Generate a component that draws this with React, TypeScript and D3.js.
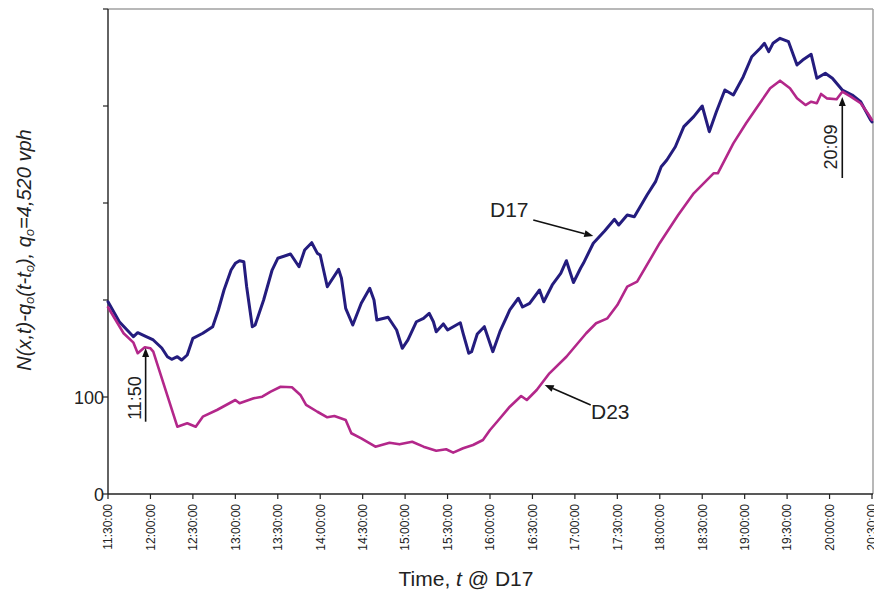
import React from "react";
import * as d3 from "d3";

// ---- data ----
const xTickLabels = [
  "11:30:00", "12:00:00", "12:30:00", "13:00:00", "13:30:00", "14:00:00", "14:30:00",
  "15:00:00", "15:30:00", "16:00:00", "16:30:00", "17:00:00", "17:30:00", "18:00:00",
  "18:30:00", "19:00:00", "19:30:00", "20:00:00", "20:30:00",
];
const yTicks = [0, 100, 200, 300, 400, 500];
const yTickLabels = ["0", "100", "", "", "", ""];

const d17Times = [
  "11:30", "11:38", "11:48", "11:51", "11:57", "12:02", "12:08", "12:12", "12:15", "12:19",
  "12:22", "12:26", "12:30", "12:37", "12:44", "12:48", "12:52", "12:57", "13:00", "13:03",
  "13:06", "13:08", "13:12", "13:14", "13:20", "13:26", "13:30", "13:39", "13:45", "13:49",
  "13:54", "13:58", "14:00", "14:05", "14:13", "14:15", "14:18", "14:23", "14:29", "14:35",
  "14:38", "14:40", "14:48", "14:54", "14:58", "15:02", "15:08", "15:13", "15:17", "15:20",
  "15:22", "15:27", "15:30", "15:39", "15:41", "15:45", "15:47", "15:51", "15:56", "16:02",
  "16:07", "16:14", "16:20", "16:23", "16:28", "16:35", "16:38", "16:44", "16:50", "16:54",
  "16:59", "17:04", "17:06", "17:13", "17:21", "17:28", "17:31", "17:37", "17:42", "17:51",
  "17:57", "18:01", "18:05", "18:11", "18:17", "18:24", "18:30", "18:35", "18:40", "18:46",
  "18:52", "18:59", "19:05", "19:11", "19:14", "19:17", "19:20", "19:25", "19:31", "19:37",
  "19:41", "19:47", "19:51", "19:57", "20:02", "20:09", "20:16", "20:22", "20:29", "20:30",
];
const d17Values = [
  198.2, 177.6, 162.2, 166.3, 162.2, 158.8, 150.5, 141.5, 138.9, 141.5,
  138.1, 143.3, 160.5, 165.7, 172.5, 189.7, 210.3, 230.9, 237.8, 240.5,
  239.5, 213.7, 172.5, 174.2, 200.0, 230.9, 243.0, 247.4, 234.3, 251.5,
  259.1, 248.1, 246.4, 213.7, 231.6, 222.4, 191.4, 174.2, 196.6, 212.1,
  200.0, 179.4, 182.2, 169.1, 150.2, 158.8, 177.6, 181.1, 186.3, 177.6,
  167.3, 175.3, 169.1, 176.6, 165.7, 145.1, 146.7, 164.9, 172.5, 146.7,
  167.3, 189.7, 201.8, 192.8, 196.6, 210.3, 198.2, 215.5, 227.5, 240.5,
  218.0, 232.7, 237.8, 258.5, 271.1, 283.2, 277.3, 287.6, 285.9, 308.2,
  322.0, 337.4, 344.3, 358.0, 378.7, 389.0, 400.0, 373.5, 394.1, 416.5,
  411.3, 430.2, 450.8, 459.5, 464.6, 456.0, 464.6, 469.8, 466.3, 442.3,
  447.4, 453.3, 428.6, 433.7, 428.6, 416.5, 411.3, 404.4, 385.6, 383.5,
];

const d23Times = [
  "11:30", "11:41", "11:48", "11:51", "11:56", "12:00", "12:02", "12:19", "12:26", "12:32",
  "12:37", "12:47", "13:00", "13:03", "13:13", "13:19", "13:25", "13:32", "13:40", "13:46",
  "13:50", "13:58", "14:05", "14:10", "14:18", "14:22", "14:29", "14:39", "14:49", "14:56",
  "15:05", "15:13", "15:22", "15:29", "15:34", "15:41", "15:48", "15:55", "16:00", "16:05",
  "16:14", "16:22", "16:26", "16:33", "16:42", "16:54", "17:08", "17:15", "17:23", "17:30",
  "17:37", "17:44", "18:00", "18:13", "18:24", "18:38", "18:41", "18:52", "19:01", "19:09",
  "19:18", "19:25", "19:32", "19:37", "19:43", "19:47", "19:51", "19:54", "19:58", "20:05",
  "20:09", "20:15", "20:22", "20:27", "20:30",
];
const d23Values = [
  192.5, 165.7, 156.0, 145.1, 151.2, 150.2, 146.7, 69.4, 72.9, 69.4,
  79.7, 86.6, 96.9, 93.5, 98.7, 100.3, 105.5, 110.6, 110.0, 102.1,
  91.8, 84.8, 79.1, 80.4, 76.3, 62.6, 57.4, 48.8, 52.9, 51.2,
  53.9, 48.8, 44.6, 46.1, 42.6, 47.1, 50.5, 55.7, 66.0, 74.5,
  90.0, 101.0, 96.9, 107.2, 124.4, 141.5, 165.7, 176.0, 181.1, 194.8,
  213.7, 218.9, 258.8, 287.6, 310.0, 330.6, 330.6, 361.5, 382.2, 399.3,
  418.2, 426.1, 418.2, 407.9, 401.0, 404.4, 402.8, 412.4, 407.9, 406.9,
  414.7, 409.6, 402.8, 392.5, 385.6,
];

// ---- layout ----
const W = 874;
const H = 592;
const X0 = 108;
const X1 = 872;
const Y0 = 494;
const Y1 = 9;
const FONT = "'Liberation Sans', Arial, Helvetica, sans-serif";

const toMin = (s: string) => {
  const p = s.split(":").map(Number);
  return p[0] * 60 + p[1] + (p[2] || 0) / 60;
};

const x = d3.scaleLinear().domain([toMin("11:30"), toMin("20:30")]).range([X0, X1]);
const y = d3.scaleLinear().domain([0, 500]).range([Y0, Y1]);

const lineGen = d3
  .line<[number, number]>()
  .x((d) => x(d[0]))
  .y((d) => y(d[1]))
  .curve(d3.curveLinear);

const d17 = d17Times.map((t, i) => [toMin(t), d17Values[i]] as [number, number]);
const d23 = d23Times.map((t, i) => [toMin(t), d23Values[i]] as [number, number]);

function Arrow({ x1, y1, x2, y2 }: { x1: number; y1: number; x2: number; y2: number }) {
  const ang = Math.atan2(y2 - y1, x2 - x1);
  const len = 9;
  const half = 3.5;
  const bx = x2 - len * Math.cos(ang);
  const by = y2 - len * Math.sin(ang);
  const px = -Math.sin(ang) * half;
  const py = Math.cos(ang) * half;
  return (
    <g>
      <line x1={x1} y1={y1} x2={bx} y2={by} stroke="#111" strokeWidth={1.6} />
      <polygon
        points={`${x2},${y2} ${bx + px},${by + py} ${bx - px},${by - py}`}
        fill="#111"
      />
    </g>
  );
}

export default function App() {
  const a1150x = x(toMin("11:56:36"));
  const a2009x = x(toMin("20:09"));
  const d17Tip = { x: x(toMin("17:13")), y: y(266) };
  const d23Tip = { x: x(toMin("16:38:40")), y: y(112.4) };
  return (
    <svg
      width={W}
      height={H}
      style={{ position: "absolute", left: 0, top: 0, background: "#fff" }}
      fontFamily={FONT}
    >
      <rect x={0} y={0} width={W} height={H} fill="#fff" />
      {/* frame */}
      <line x1={X0} y1={Y1} x2={X1 + 1} y2={Y1} stroke="#a0a0a0" strokeWidth={1.5} />
      <line x1={X1 + 1} y1={Y1} x2={X1 + 1} y2={Y0} stroke="#a0a0a0" strokeWidth={1.5} />
      {/* y axis */}
      <line x1={X0} y1={Y1} x2={X0} y2={Y0} stroke="#222" strokeWidth={1.4} />
      {yTicks.map((v, i) => (
        <g key={"yt" + i}>
          <line x1={X0 - 5} x2={X0} y1={y(v)} y2={y(v)} stroke="#222" strokeWidth={1.2} />
          {yTickLabels[i] && (
            <text x={X0 - 4} y={y(v) + 6.5} fontSize={18} textAnchor="end" fill="#222">
              {yTickLabels[i]}
            </text>
          )}
        </g>
      ))}
      {/* x axis */}
      <line x1={X0} y1={Y0} x2={X1 + 1} y2={Y0} stroke="#222" strokeWidth={1.4} />
      {xTickLabels.map((lab, i) => {
        const xv = x(toMin(lab));
        return (
          <g key={"xt" + i}>
            <line x1={xv} x2={xv} y1={Y0} y2={Y0 + 5} stroke="#222" strokeWidth={1.2} />
            <text
              transform={`translate(${xv + 4.3},${Y0 + 10}) rotate(-90)`}
              fontSize={12}
              textAnchor="end"
              fill="#222"
            >
              {lab}
            </text>
          </g>
        );
      })}
      {/* series */}
      <path
        d={lineGen(d17) || ""}
        fill="none"
        stroke="#241c7e"
        strokeWidth={3}
        strokeLinejoin="round"
        strokeLinecap="round"
      />
      <path
        d={lineGen(d23) || ""}
        fill="none"
        stroke="#b3278a"
        strokeWidth={2.6}
        strokeLinejoin="round"
        strokeLinecap="round"
      />
      {/* annotations */}
      <Arrow x1={a1150x} y1={421.7} x2={a1150x} y2={348} />
      <text
        transform={`translate(141,398) rotate(-90)`}
        fontSize={18}
        textAnchor="middle"
        fill="#222"
      >
        11:50
      </text>
      <Arrow x1={a2009x} y1={178} x2={a2009x} y2={97} />
      <text
        transform={`translate(836.5,147) rotate(-90)`}
        fontSize={18}
        textAnchor="middle"
        fill="#222"
      >
        20:09
      </text>
      <Arrow x1={d17Tip.x - 60} y1={d17Tip.y - 16} x2={d17Tip.x} y2={d17Tip.y} />
      <text x={490} y={217} fontSize={21} fill="#222">
        D17
      </text>
      <Arrow x1={d23Tip.x + 46} y1={d23Tip.y + 20} x2={d23Tip.x} y2={d23Tip.y} />
      <text x={591} y={419} fontSize={21} fill="#222">
        D23
      </text>
      {/* axis titles */}
      <text x={466} y={586} fontSize={21} textAnchor="middle" fill="#222">
        Time, <tspan fontStyle="italic">t</tspan> @ D17
      </text>
      <text
        transform={`translate(31,250) rotate(-90)`}
        fontSize={20}
        textAnchor="middle"
        fontStyle="italic"
        fill="#222"
      >
        N(x,t)-q<tspan fontSize={13} dy={3}>o</tspan>
        <tspan dy={-3}>(t-t</tspan>
        <tspan fontSize={13} dy={3}>o</tspan>
        <tspan dy={-3}>), q</tspan>
        <tspan fontSize={13} dy={3}>o</tspan>
        <tspan dy={-3}>=4,520 vph</tspan>
      </text>
    </svg>
  );
}
